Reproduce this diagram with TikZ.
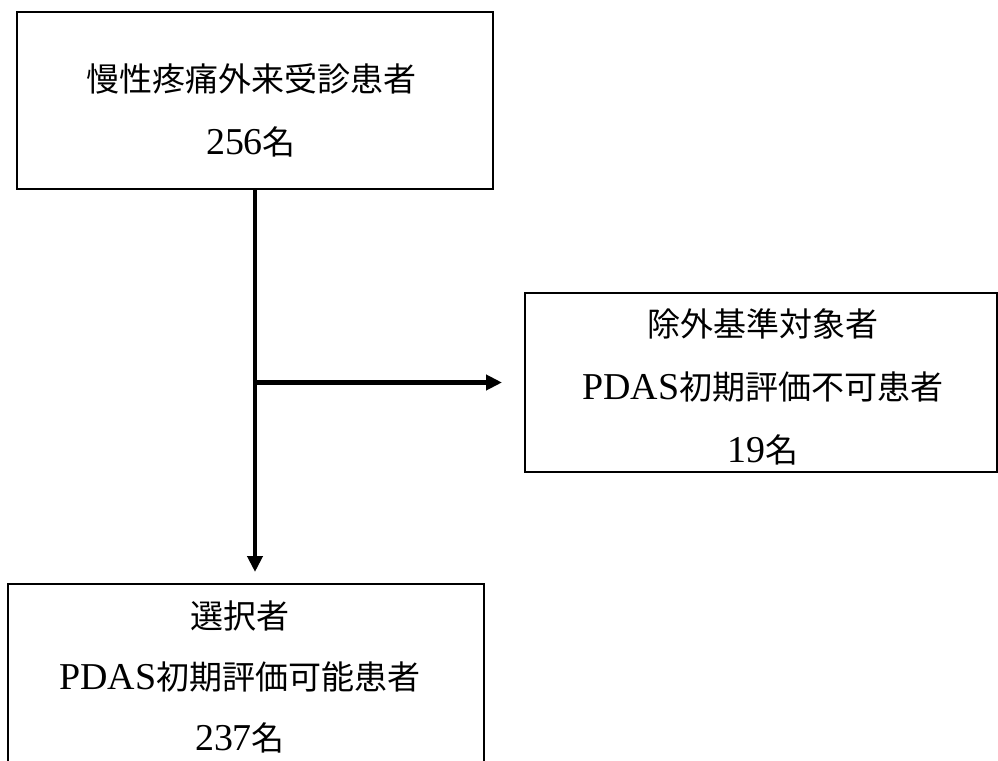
\documentclass[tikz,border=0pt]{standalone}
\usepackage{fontspec}
\setmainfont[Scale=1.15]{Liberation Serif}
\newfontfamily\jp{Noto Sans CJK JP}
\usetikzlibrary{arrows.meta,calc}
\tikzset{
  box/.style={draw=black, line width=2pt, rectangle, inner sep=0pt},
  txt/.style={align=center, inner sep=0pt, font=\fontsize{33}{63}\selectfont},
  flow/.style={line width=4.5pt, -{Triangle[length=16pt,width=15pt]}}
}
\begin{document}
\begin{tikzpicture}[x=1pt,y=-1pt]
\useasboundingbox (0,0) rectangle (998,760);
\clip (0,0) rectangle (998,760);
% boxes
\node[box, minimum width=476pt, minimum height=177pt] (top) at (255,100.5) {};
\node[box, minimum width=472pt, minimum height=179pt] (right) at (761,382.5) {};
\node[box, minimum width=476pt, minimum height=200pt] (bot) at (246,684) {};
% texts
\node[txt] (toptxt) at (251,110) {{\jp 慢性疼痛外来受診患者}\\256{\jp 名}};
\node[txt] (righttxt) at (763,387) {{\jp 除外基準対象者}\\PDAS{\jp 初期評価不可患者}\\19{\jp 名}};
\node[txt, font=\fontsize{33}{61}\selectfont] (bottxt) at (240,677) {{\jp 選択者}\\PDAS{\jp 初期評価可能患者}\\237{\jp 名}};
% connectors
\coordinate (j) at (top.south |- right.west);
\draw[flow, shorten >=11pt] (top.south) -- (top.south |- bot.north);
\draw[flow, shorten >=22pt] ([xshift=-2.25pt]j) -- (right.west);
\end{tikzpicture}
\end{document}
